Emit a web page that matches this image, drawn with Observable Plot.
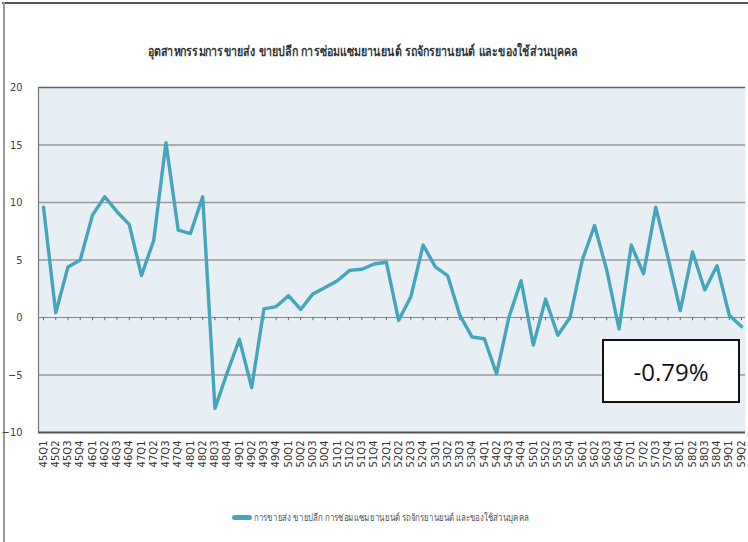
<!DOCTYPE html>
<html>
<head>
<meta charset="utf-8">
<script src="https://cdn.jsdelivr.net/npm/d3@7"></script>
<script src="https://cdn.jsdelivr.net/npm/@observablehq/plot@0.6"></script>
<style>
  html, body { margin: 0; padding: 0; background: #fff; }
  #wrap { position: relative; width: 748px; height: 542px; overflow: hidden; background: #fff; }
  #topline { position: absolute; left: 2px; top: 2px; width: 746px; height: 2px; background: #555; }
  #leftline { position: absolute; left: 3px; top: 2px; width: 1.5px; height: 540px; background: #999; }
  #title { position: absolute; left: 0; top: 40px; width: 725px; text-align: center; white-space: nowrap;
           font-family: "DejaVu Sans Condensed", "Liberation Sans Narrow", "DejaVu Sans", sans-serif; font-weight: bold; font-size: 14px; color: #333; }
  #title span { display: inline-block; transform-origin: center; }
  #chart { position: absolute; left: 0; top: 0; }
  #legend { position: absolute; left: 232px; top: 509px; height: 16px; display: flex; align-items: center; white-space: nowrap;
            font-family: "DejaVu Sans Condensed", "DejaVu Sans", sans-serif; font-size: 10px; color: #555; }
  #legend .sw { width: 20px; height: 5px; border-radius: 3px; background: #45a5bd; margin-right: 2px; }
  #legend .lt { display: inline-block; transform-origin: left center; }
  #note { position: absolute; left: 602px; top: 339px; width: 134px; height: 60px; border: 2px solid #111; background: #fff;
          display: flex; align-items: center; justify-content: center; font-family: "Open Sans", "Noto Sans", sans-serif; font-size: 24px; color: #111; }
</style>
</head>
<body>
<div id="wrap">
  <div id="topline"></div>
  <div id="leftline"></div>
  <div id="chart"></div>
  <div id="title"><span id="titletext"></span></div>
  <div id="legend"><div class="sw"></div><span class="lt" id="legendtext"></span></div>
  <div id="note"></div>
</div>
<script>
const titleText = "อุตสาหกรรมการขายส่ง ขายปลีก การซ่อมแซมยานยนต์ รถจักรยานยนต์ และของใช้ส่วนบุคคล";
const seriesName = "การขายส่ง ขายปลีก การซ่อมแซมยานยนต์ รถจักรยานยนต์ และของใช้ส่วนบุคคล";

const quarters = [
  "45Q1","45Q2","45Q3","45Q4","46Q1","46Q2","46Q3","46Q4","47Q1","47Q2","47Q3","47Q4",
  "48Q1","48Q2","48Q3","48Q4","49Q1","49Q2","49Q3","49Q4","50Q1","50Q2","50Q3","50Q4",
  "51Q1","51Q2","51Q3","51Q4","52Q1","52Q2","52Q3","52Q4","53Q1","53Q2","53Q3","53Q4",
  "54Q1","54Q2","54Q3","54Q4","55Q1","55Q2","55Q3","55Q4","56Q1","56Q2","56Q3","56Q4",
  "57Q1","57Q2","57Q3","57Q4","58Q1","58Q2","58Q3","58Q4","59Q1","59Q2"
];
const growth = [
  9.6, 0.4, 4.4, 5.0, 8.9, 10.5, 9.2, 8.1, 3.65, 6.7, 15.2, 7.6,
  7.3, 10.5, -7.9, -4.8, -1.9, -6.1, 0.75, 0.95, 1.9, 0.7, 2.05, 2.6,
  3.2, 4.1, 4.2, 4.65, 4.8, -0.25, 1.8, 6.3, 4.4, 3.65, 0.2, -1.7,
  -1.85, -4.9, 0.0, 3.2, -2.4, 1.6, -1.55, 0.0, 5.0, 8.0, 4.1, -1.0,
  6.3, 3.8, 9.6, 5.2, 0.6, 5.7, 2.4, 4.5, 0.2, -0.79
];
const yTicks = [-10, -5, 0, 5, 10, 15, 20];
const gridValues = [-5, 5, 10, 15];
const noteLabel = "-0.79%";

const idx = quarters.map((_, i) => i);
const data = quarters.map((q, i) => ({i, q, v: growth[i]}));

const chart = Plot.plot({
  width: 748,
  height: 490,
  marginTop: 87,
  marginBottom: 58,
  marginLeft: 38,
  marginRight: 3,
  style: {background: "transparent", overflow: "visible"},
  x: {type: "linear", domain: [0, quarters.length - 1], insetLeft: 5, insetRight: 4},
  y: {domain: [-10, 20]},
  marks: [
    Plot.frame({fill: "#e8eff4", stroke: null}),
    Plot.ruleY(gridValues, {stroke: "#9a9a9a", strokeWidth: 1.5}),
    Plot.ruleY([20], {stroke: "#666", strokeWidth: 1.5}),
    Plot.frame({anchor: "left", stroke: "#777", strokeWidth: 1.2}),
    Plot.ruleY([0], {stroke: "#8a8a8a", strokeWidth: 1}),
    Plot.ruleX(idx, {x: d => d, y1: 0, y2: -0.28, stroke: "#666", strokeWidth: 1}),
    Plot.ruleY([-10], {stroke: "#555", strokeWidth: 2}),
    Plot.line(data, {x: "i", y: "v", stroke: "#45a5bd", strokeWidth: 3.4, strokeLinejoin: "round", strokeLinecap: "round"}),
    Plot.axisY({ticks: yTicks, tickSize: 0, tickPadding: 16, label: null,
      fontSize: 11, fill: "#444", fontFamily: "Liberation Sans Narrow, DejaVu Sans Condensed, sans-serif"}),
    Plot.axisX({ticks: idx, tickFormat: i => quarters[i], tickSize: 0, tickPadding: 8, tickRotate: -90, label: null,
      fontSize: 10, fill: "#333", fontFamily: "DejaVu Sans, sans-serif", style: {letterSpacing: "1.3px"}})
  ]
});
document.getElementById("chart").appendChild(chart);

// title & legend text, stretched to the reference's widths
const tEl = document.getElementById("titletext");
tEl.textContent = titleText;
const tw = tEl.getBoundingClientRect().width;
tEl.style.transform = `scaleX(${430 / tw})`;

const lEl = document.getElementById("legendtext");
lEl.textContent = seriesName;
const lw = lEl.getBoundingClientRect().width;
lEl.style.transform = `scaleX(${275 / lw})`;

document.getElementById("note").textContent = noteLabel;
</script>
</body>
</html>
